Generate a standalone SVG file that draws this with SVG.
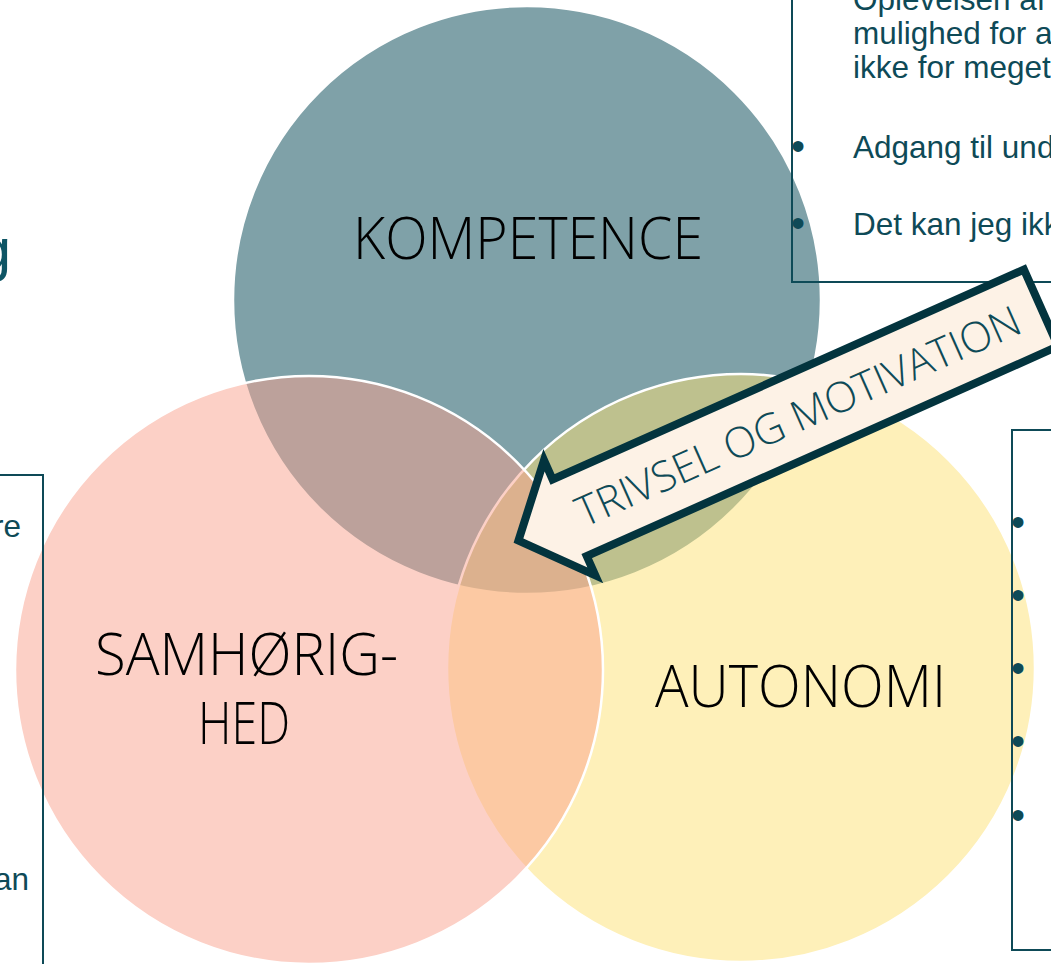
<svg xmlns="http://www.w3.org/2000/svg" width="1051" height="964" viewBox="0 0 1051 964">
<style>
.circ{stroke:#ffffff;stroke-width:2.5}
.lbl{font-family:"Open Sans","Liberation Sans",sans-serif;font-weight:350;fill:#000000}
.body{font-family:"Liberation Sans",Arial,sans-serif;font-size:31.5px;fill:#0E4A57}
.bul{font-family:"Liberation Sans",Arial,sans-serif;font-size:40px;fill:#0E4A57}
.box{fill:none;stroke:#0E4A57;stroke-width:2}
.arrow{fill:#FDF2E6;stroke:#03343E;stroke-width:8;stroke-linejoin:miter;stroke-miterlimit:10}
.atext{font-family:"Open Sans","Liberation Sans",sans-serif;font-weight:350;font-size:42px;fill:#0E4A57}
</style>
<rect width="1051" height="964" fill="#ffffff"/>
<text x="11" y="270" text-anchor="end" style="font-family:'Liberation Sans',Arial,sans-serif;font-size:60px;fill:#0E5565">g</text>
<g id="circles">
<g id="kompetence">
<circle class="circ" cx="527" cy="300" r="294" fill="rgb(0,67,81)" fill-opacity="0.5"/>
</g>
<g id="autonomi">
<circle class="circ" cx="741" cy="668" r="294" fill="rgb(253,225,115)" fill-opacity="0.5"/>
</g>
<g id="samhorighed">
<circle class="circ" cx="309" cy="670" r="294" fill="rgb(249,161,141)" fill-opacity="0.5"/>
</g>
</g>
<g id="labels">
<text class="lbl" x="528" y="259" text-anchor="middle" font-size="58" textLength="350" lengthAdjust="spacingAndGlyphs">KOMPETENCE</text>
<text class="lbl" x="246.5" y="675" text-anchor="middle" font-size="58" textLength="303" lengthAdjust="spacingAndGlyphs">SAMHØRIG-</text>
<text class="lbl" x="244" y="744" text-anchor="middle" font-size="58" textLength="92" lengthAdjust="spacingAndGlyphs">HED</text>
<text class="lbl" x="800.5" y="707" text-anchor="middle" font-size="58" textLength="291" lengthAdjust="spacingAndGlyphs">AUTONOMI</text>
</g>
<g id="box-top-right">
<rect class="box" x="792" y="-10" width="300" height="292"/>
<text class="body" x="853" y="10">Oplevelsen af</text>
<text class="body" x="853" y="44">mulighed for a</text>
<text class="body" x="853" y="78">ikke for meget</text>
<text class="bul" x="791" y="160">•</text>
<text class="body" x="853" y="158">Adgang til und</text>
<text class="bul" x="791" y="237">•</text>
<text class="body" x="853" y="235">Det kan jeg ikk</text>
</g>
<g id="box-left">
<rect class="box" x="-20" y="475" width="63" height="520"/>
<text class="body" x="21" y="537" text-anchor="end">re</text>
<text class="body" x="29" y="890" text-anchor="end">an</text>
</g>
<g id="box-right">
<rect class="box" x="1012" y="430" width="80" height="520"/>
<text class="bul" x="1011" y="536">•</text>
<text class="bul" x="1011" y="609">•</text>
<text class="bul" x="1011" y="682">•</text>
<text class="bul" x="1011" y="755">•</text>
<text class="bul" x="1011" y="829">•</text>
</g>
<g id="arrow" transform="translate(513,543) rotate(-24)">
<polygon class="arrow" points="6,0 62,-63 62,-42 578,-42 578,42 62,42 62,63"/>
<text class="atext" x="312" y="15" text-anchor="middle" textLength="482" lengthAdjust="spacingAndGlyphs">TRIVSEL OG MOTIVATION</text>
</g>
</svg>
